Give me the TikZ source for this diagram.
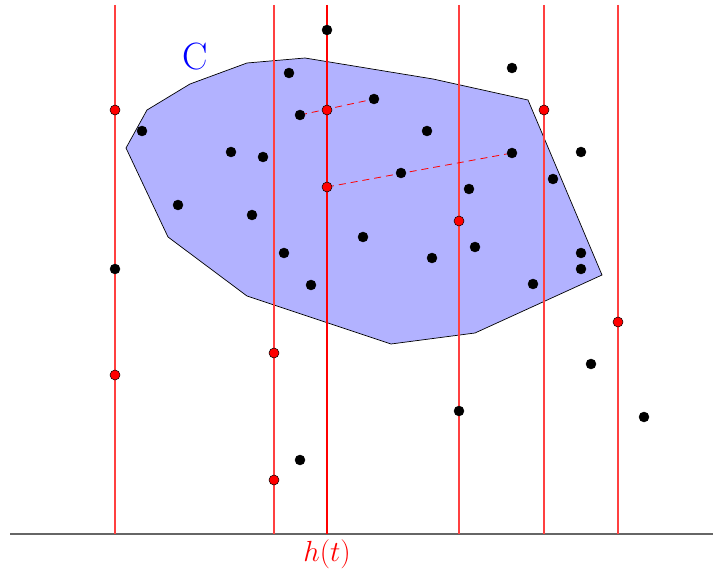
\documentclass[tikz,border=0pt]{standalone}
\begin{document}
\begin{tikzpicture}[x=1pt,y=-1pt,
  bdot/.style={circle,draw=black,fill=black,inner sep=0pt,minimum size=10pt},
  rdot/.style={circle,draw=black,fill=red,inner sep=0pt,minimum size=10pt,line width=0.5pt},
  vline/.style={draw=red!75,line width=1.2pt},
  vmain/.style={draw=red,line width=1.3pt},
  link/.style={draw=red,dash pattern=on 7pt off 5pt,line width=0.8pt}]
\useasboundingbox (0,0) rectangle (713,572);
% region C
\draw[fill=blue!30,line width=0.7pt] (126,148) -- (147,110) -- (190,84) -- (247,63) -- (305,58) -- (433,79) -- (528,100) -- (602,275) -- (475,333) -- (391,344) -- (247,296) -- (168,237) -- cycle;
\node[text=blue,font=\fontsize{38}{42}\selectfont] (C) at (195,57) {C};
% axis
\coordinate (ax0) at (10,534);
\coordinate (ax1) at (713,534);
\draw[draw=black!60,line width=1.5pt] (ax0) -- (ax1);
% vertical lines
\foreach \x/\n in {115/a,274/b,459/d,544/e,618/f} {
  \coordinate (t\n) at (\x,5);
  \coordinate (b\n) at (\x,534);
  \draw[vline] (t\n) -- (b\n);
}
\coordinate (tc) at (327,5);
\coordinate (bc) at (327,534);
\draw[vmain] (tc) -- (bc);
\node[text=red,below=3pt,inner sep=2pt] (h) at (bc) {\scalebox{1.17}{\Huge$h(t)$}};
% dashed links
\coordinate (p5) at (300,115);
\coordinate (p4) at (374,99);
\coordinate (q4) at (327,187);
\coordinate (q29) at (512,153);
\draw[link] (p5) -- (p4);
\draw[link] (q4) -- (q29);
% black dots
\foreach \x/\y/\n in {327/30/k1,289/73/k2,512/68/k3,374/99/k4,300/115/k5,142/131/k6,427/131/k7,231/152/k8,263/157/k9,581/152/k10,401/173/k11,553/179/k12,469/189/k13,178/205/k14,252/215/k15,363/237/k16,475/247/k17,284/253/k18,432/258/k19,581/253/k20,581/269/k21,115/269/k22,311/285/k23,533/284/k24,591/364/k25,459/411/k26,644/417/k27,300/460/k28,512/153/k29}
  \node[bdot] (\n) at (\x,\y) {};
% red dots
\foreach \x/\y/\n in {115/110/r1,327/110/r2,544/110/r3,327/187/r4,459/221/r5,618/322/r6,274/353/r7,115/375/r8,274/480/r9}
  \node[rdot] (\n) at (\x,\y) {};
\end{tikzpicture}
\end{document}
